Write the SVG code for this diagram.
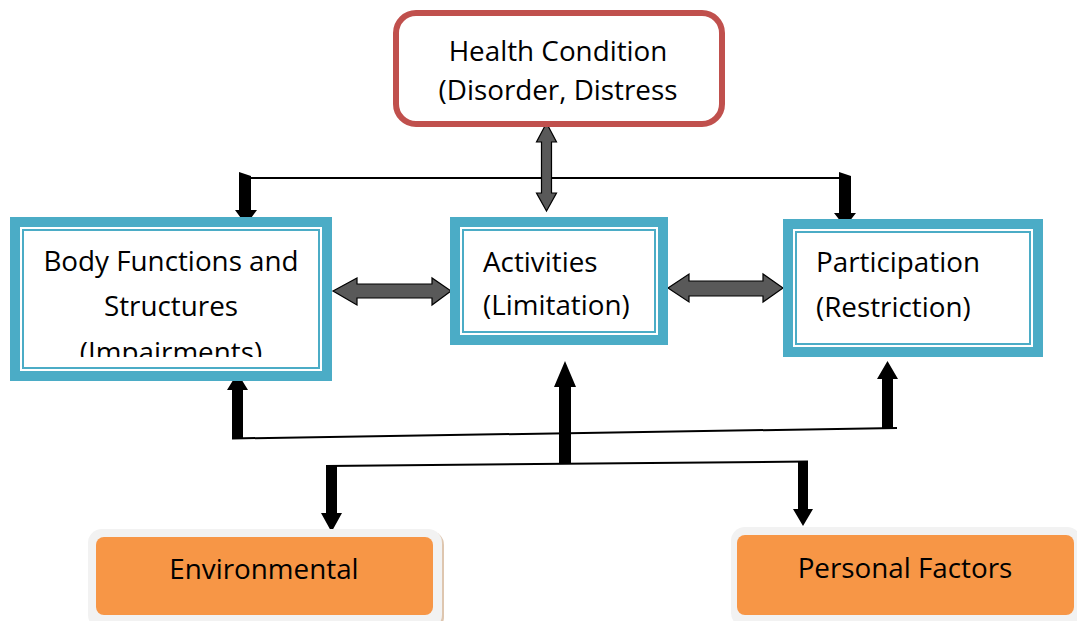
<svg xmlns="http://www.w3.org/2000/svg" width="1077" height="621" viewBox="0 0 1077 621">
<style>
.t{font-family:"Open Sans","Liberation Sans",sans-serif;font-size:27.8px;fill:#000}
.c{text-anchor:middle}
.thick{fill:none;stroke:#4BACC6;stroke-width:10}
.thin{fill:none;stroke:#4BACC6;stroke-width:2}
.gray{fill:#595959;stroke:#000;stroke-width:1.2}
.blk{fill:#000}
.ln{stroke:#000;stroke-width:2;fill:none}
.orgout{fill:#F2F2F2}
.org{fill:#F79646}
</style>
<defs>
<clipPath id="bodyclip"><rect x="20" y="227" width="302" height="130"/></clipPath>
</defs>
<rect width="1077" height="621" fill="#fff"/>

<g id="connectors">
<line class="ln" x1="246" y1="178" x2="846" y2="178"/>
<polygon class="gray" points="546.5,123 556.5,142 551.5,142 551.5,193 556.5,193 546.5,211 536.5,193 541.5,193 541.5,142 536.5,142"/>
<polygon class="blk" points="239,172 251,176 251,210 257,210 246,225 235,210 239,210"/>
<polygon class="blk" points="839,172 851,176 851,213 856,213 845,227 834,213 839,213"/>
<polygon class="gray" points="333,291 357,278 357,284 432,284 432,278 451,291 432,305 432,298 357,298 357,305"/>
<polygon class="gray" points="668,288 689,274 689,281 763,281 763,274 783,288 763,302 763,296 689,296 689,302"/>
<line class="ln" x1="232" y1="438.5" x2="897" y2="428"/>
<polygon class="blk" points="232,439 232,390 227,390 237.5,373 248,390 243,390 243,439"/>
<polygon class="blk" points="559,463 559,387 554,387 565,361 576,387 571,387 571,463"/>
<polygon class="blk" points="882,428 882,379 877,379 887.5,361 898,379 893,379 893,428"/>
<line class="ln" x1="326" y1="466" x2="808" y2="461.5"/>
<polygon class="blk" points="326,466 337,466 337,513 342,513 331.5,532 321,513 326,513"/>
<polygon class="blk" points="798,462 808,462 808,509 813,509 803,526 793,509 798,509"/>
</g>

<g id="health">
<rect x="396" y="13" width="326" height="111" rx="20" fill="#fff" stroke="#C0504D" stroke-width="6"/>
<text class="t c" x="558" y="61">Health Condition</text>
<text class="t c" x="558" y="100">(Disorder, Distress</text>
</g>

<g id="body">
<rect x="10" y="217" width="322" height="164" fill="#fff"/>
<rect class="thick" x="15" y="222" width="312" height="154"/>
<rect class="thin" x="23" y="230" width="296" height="138"/>
<g clip-path="url(#bodyclip)">
<text class="t c" x="171" y="271">Body Functions and</text>
<text class="t c" x="171" y="316">Structures</text>
<text class="t c" x="171" y="362">(Impairments)</text>
</g>
</g>

<g id="activities">
<rect x="450" y="217" width="218" height="128" fill="#fff"/>
<rect class="thick" x="455" y="222" width="208" height="118"/>
<rect class="thin" x="463" y="230" width="192" height="102"/>
<text class="t" x="483" y="272">Activities</text>
<text class="t" x="483" y="315">(Limitation)</text>
</g>

<g id="participation">
<rect x="783" y="219" width="260" height="138" fill="#fff"/>
<rect class="thick" x="788" y="224" width="250" height="128"/>
<rect class="thin" x="796" y="232" width="234" height="112"/>
<text class="t" x="816" y="272">Participation</text>
<text class="t" x="816" y="317">(Restriction)</text>
</g>

<g id="environmental">
<rect x="90" y="531" width="354" height="100" rx="14" fill="#C8A07A" opacity="0.6"/>
<rect class="orgout" x="88" y="529" width="354" height="100" rx="14"/>
<rect class="org" x="96" y="537" width="337" height="78" rx="8"/>
<text class="t c" x="264" y="579">Environmental</text>
</g>

<g id="personal">
<rect x="733" y="529" width="350" height="100" rx="14" fill="#C8A07A" opacity="0.6"/>
<rect class="orgout" x="731" y="527" width="350" height="100" rx="14"/>
<rect class="org" x="737" y="535" width="337" height="80" rx="8"/>
<text class="t c" x="905" y="578">Personal Factors</text>
</g>
</svg>
